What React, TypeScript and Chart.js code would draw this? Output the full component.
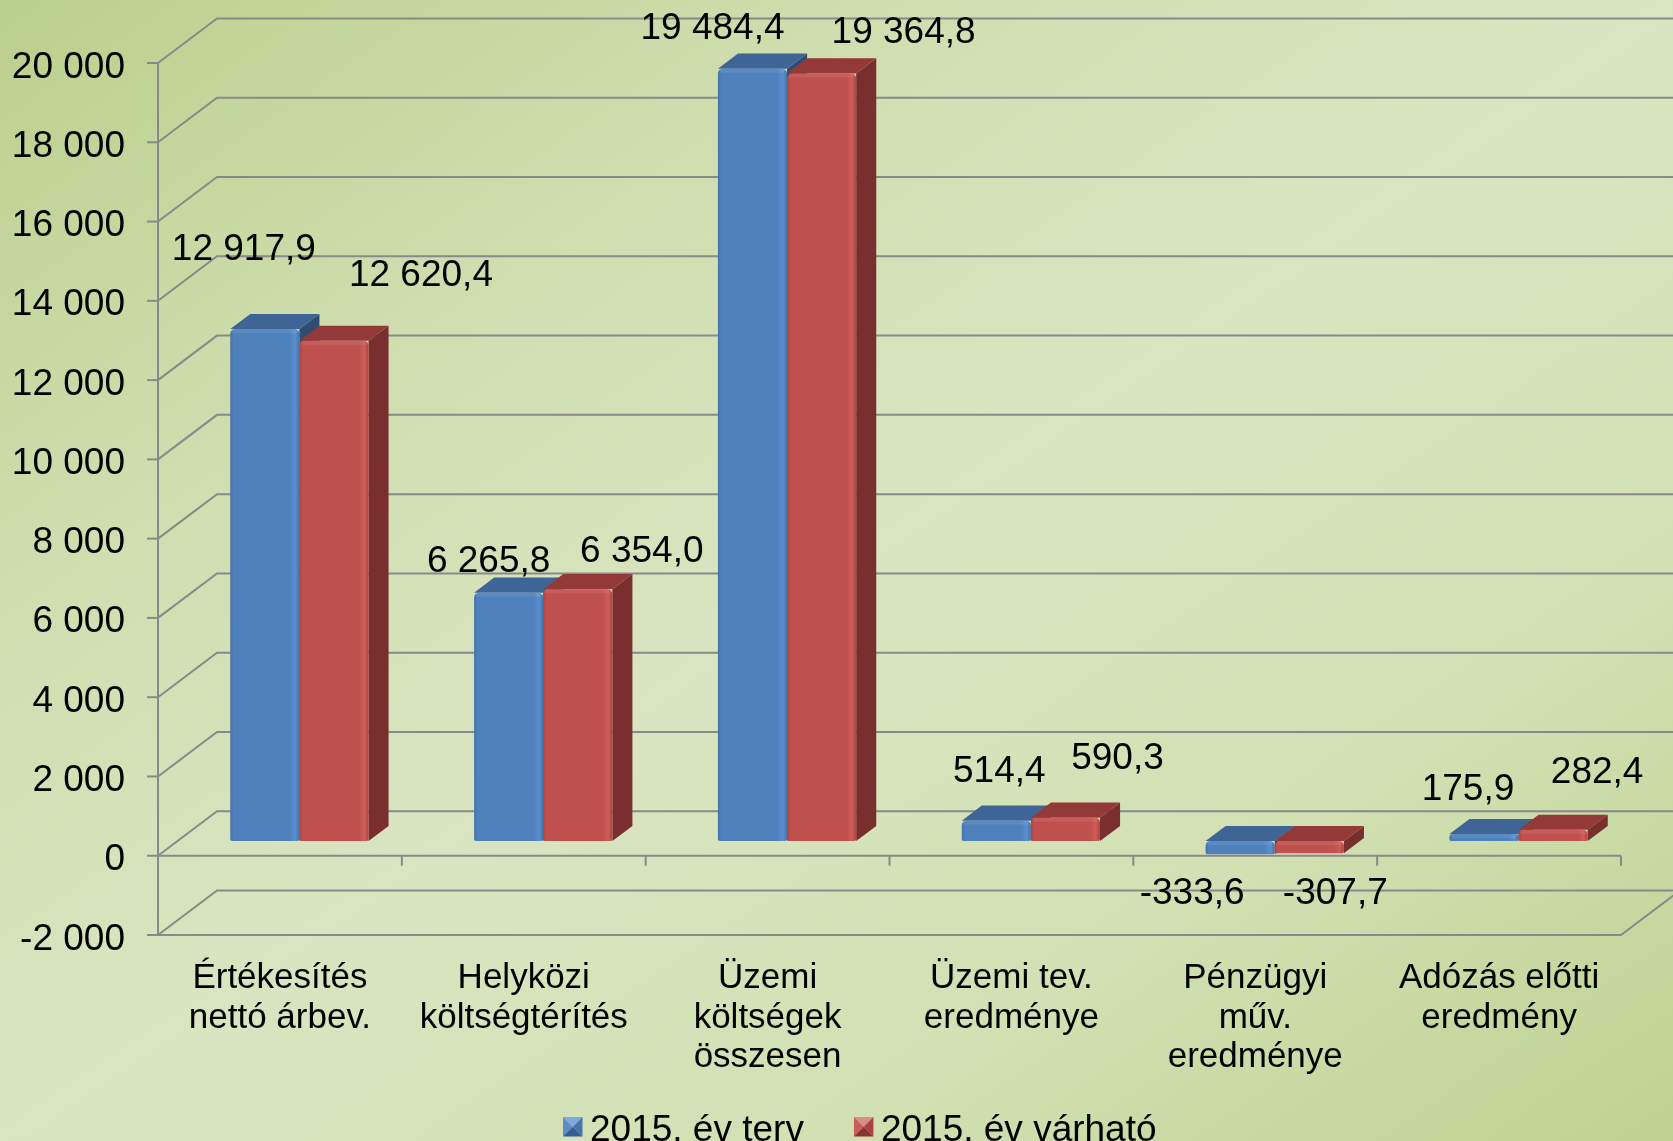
import { useEffect, useRef } from 'react';
import { Chart, registerables } from 'chart.js';

Chart.register(...registerables);

// ---------- data ----------
const categories: string[][] = [
  ['Értékesítés', 'nettó árbev.'],
  ['Helyközi', 'költségtérítés'],
  ['Üzemi', 'költségek', 'összesen'],
  ['Üzemi tev.', 'eredménye'],
  ['Pénzügyi', 'műv.', 'eredménye'],
  ['Adózás előtti', 'eredmény'],
];
const seriesNames = ['2015. év terv', '2015. év várható'];
const planValues = [12917.9, 6265.8, 19484.4, 514.4, -333.6, 175.9];
const expectedValues = [12620.4, 6354.0, 19364.8, 590.3, -307.7, 282.4];
const yTicks = [-2000, 0, 2000, 4000, 6000, 8000, 10000, 12000, 14000, 16000, 18000, 20000];

// data-label nudges (px) relative to the bar top, as placed in the original
const planLabelDx = [-21, -20, -40, 3, -48, -16];
const planLabelDy = [-69, -21, -30, -39, 50, -34];
const expectedLabelDx = [87, 64, 82, 52, 26, 44];
const expectedLabelDy = [-55, -27, -30, -49, 51, -47];

// ---------- style ----------
const W = 1673;
const H = 1141;
const DEPTH_X = 59;
const DEPTH_Y = 44.5;
const BAR_FRONT = 0.33;
const BAR_DEPTH = 0.34;
const FONT = "'Liberation Sans', Arial, sans-serif";
const GRID = '#898989';

const palette = [
  { front: '#4F81BD', light: '#5A90D0', dark: '#4572A8', top: '#3E6595', side: '#2F4D73', mTop: '#7FA9DE', mLeft: '#5C8DCA', mRight: '#4574AE', mBottom: '#355D92' },
  { front: '#C0504D', light: '#D05C58', dark: '#AA4543', top: '#933A38', side: '#7A2E2D', mTop: '#DE8A86', mLeft: '#C65E5A', mRight: '#A84542', mBottom: '#8A3432' },
];

function fmt(v: number, dec: number): string {
  const neg = v < 0;
  const s = Math.abs(v).toFixed(dec);
  const parts = s.split('.');
  const g = parts[0].replace(/\B(?=(\d{3})+(?!\d))/g, ' ');
  return (neg ? '-' : '') + g + (parts[1] ? ',' + parts[1] : '');
}

function poly(ctx: CanvasRenderingContext2D, pts: number[][], fill: string) {
  ctx.beginPath();
  ctx.moveTo(pts[0][0], pts[0][1]);
  for (let i = 1; i < pts.length; i++) ctx.lineTo(pts[i][0], pts[i][1]);
  ctx.closePath();
  ctx.fillStyle = fill;
  ctx.fill();
}

const threeDPlugin = {
  id: 'threeD',
  afterDraw(chart: any) {
    const ctx: CanvasRenderingContext2D = chart.ctx;
    const area = chart.chartArea;
    const xs = chart.scales.x;
    const ys = chart.scales.y;
    ctx.save();

    // walls: gridlines
    ctx.strokeStyle = GRID;
    ctx.lineWidth = 2;
    for (const t of yTicks) {
      const y = ys.getPixelForValue(t);
      ctx.beginPath();
      ctx.moveTo(area.left, y);
      ctx.lineTo(area.left + DEPTH_X, y - DEPTH_Y);
      ctx.lineTo(chart.width + 2, y - DEPTH_Y);
      ctx.stroke();
      ctx.beginPath();
      ctx.moveTo(area.left - 11, y);
      ctx.lineTo(area.left, y);
      ctx.stroke();
    }
    // y axis line
    ctx.beginPath();
    ctx.moveTo(area.left, ys.getPixelForValue(yTicks[yTicks.length - 1]));
    ctx.lineTo(area.left, ys.getPixelForValue(yTicks[0]));
    ctx.stroke();
    // floor front + right edge
    const yMin = ys.getPixelForValue(yTicks[0]);
    ctx.beginPath();
    ctx.moveTo(area.left, yMin);
    ctx.lineTo(area.right, yMin);
    ctx.lineTo(area.right + DEPTH_X, yMin - DEPTH_Y);
    ctx.stroke();
    // category axis at 0
    const y0 = ys.getPixelForValue(0);
    ctx.beginPath();
    ctx.moveTo(area.left, y0);
    ctx.lineTo(area.right, y0);
    ctx.stroke();
    const catW = categories.length > 1 ? xs.getPixelForValue(1) - xs.getPixelForValue(0) : area.right - area.left;
    for (let i = 0; i < categories.length; i++) {
      const xb = xs.getPixelForValue(i) + catW / 2;
      ctx.beginPath();
      ctx.moveTo(xb, y0);
      ctx.lineTo(xb, y0 + 10);
      ctx.stroke();
    }

    // y tick labels
    ctx.fillStyle = '#000';
    ctx.font = `37px ${FONT}`;
    ctx.textAlign = 'right';
    ctx.textBaseline = 'alphabetic';
    for (const t of yTicks) {
      const y = ys.getPixelForValue(t);
      ctx.fillText(fmt(t, 0), area.left - 33, y + 14.5);
    }

    // category labels
    ctx.font = `35px ${FONT}`;
    ctx.textAlign = 'center';
    for (let i = 0; i < categories.length; i++) {
      const cx = xs.getPixelForValue(i);
      categories[i].forEach((line, k) => {
        ctx.fillText(line, cx, yMin + 53 + k * 39.5);
      });
    }

    // bars (3D boxes)
    const ox = DEPTH_X * BAR_FRONT;
    const oy = DEPTH_Y * BAR_FRONT;
    const dx = DEPTH_X * BAR_DEPTH;
    const dy = DEPTH_Y * BAR_DEPTH;
    const nds = chart.data.datasets.length;
    for (let i = 0; i < categories.length; i++) {
      for (let d = 0; d < nds; d++) {
        const el = chart.getDatasetMeta(d).data[i];
        const c = palette[d];
        const x0 = el.x - el.width / 2 + ox;
        const x1 = el.x + el.width / 2 + ox;
        const yt = Math.min(el.y, el.base) - oy;
        const yb = Math.max(el.y, el.base) - oy;
        poly(ctx, [[x1, yt], [x1 + dx, yt - dy], [x1 + dx, yb - dy], [x1, yb]], c.side);
        poly(ctx, [[x0, yt], [x1, yt], [x1 + dx, yt - dy], [x0 + dx, yt - dy]], c.top);
        const g = ctx.createLinearGradient(x0, 0, x1, 0);
        g.addColorStop(0, c.dark);
        g.addColorStop(0.05, c.front);
        g.addColorStop(0.86, c.front);
        g.addColorStop(0.94, c.light);
        g.addColorStop(1, c.dark);
        ctx.fillStyle = g;
        ctx.beginPath();
        const r = Math.min(5, (yb - yt) / 2);
        (ctx as any).roundRect(x0, yt, x1 - x0, yb - yt, [r, r, 2, 2]);
        ctx.fill();
        // soft top edge highlight
        ctx.fillStyle = 'rgba(255,255,255,0.08)';
        ctx.fillRect(x0 + 2, yt, x1 - x0 - 4, Math.min(4, yb - yt));
      }
    }

    // data labels
    ctx.font = `37px ${FONT}`;
    ctx.fillStyle = '#000';
    ctx.textAlign = 'center';
    const nudges = [
      [planLabelDx, planLabelDy],
      [expectedLabelDx, expectedLabelDy],
    ];
    for (let d = 0; d < nds; d++) {
      const meta = chart.getDatasetMeta(d);
      const vals = chart.data.datasets[d].data as number[];
      for (let i = 0; i < vals.length; i++) {
        const el = meta.data[i];
        const ax = el.x + ox + nudges[d][0][i];
        const ay = el.y - oy + nudges[d][1][i];
        ctx.fillText(fmt(vals[i], 1), ax, ay);
      }
    }

    // legend
    ctx.font = `37px ${FONT}`;
    ctx.textAlign = 'left';
    let lx = 563;
    const ly = 1117;
    const ms = 19.5;
    for (let d = 0; d < nds; d++) {
      const c = palette[d];
      const cxm = lx + ms / 2;
      const cym = ly + ms / 2;
      poly(ctx, [[lx, ly], [lx + ms, ly], [cxm, cym]], c.mTop);
      poly(ctx, [[lx, ly], [cxm, cym], [lx, ly + ms]], c.mLeft);
      poly(ctx, [[lx + ms, ly], [lx + ms, ly + ms], [cxm, cym]], c.mRight);
      poly(ctx, [[lx, ly + ms], [cxm, cym], [lx + ms, ly + ms]], c.mBottom);
      const label = chart.data.datasets[d].label as string;
      ctx.fillStyle = '#000';
      ctx.fillText(label, lx + 27, 1140.5);
      lx = lx + 27 + ctx.measureText(label).width + 50;
    }

    ctx.restore();
  },
};

export default function App() {
  const ref = useRef<HTMLCanvasElement | null>(null);
  useEffect(() => {
    if (!ref.current) return;
    const chart = new Chart(ref.current, {
      type: 'bar',
      data: {
        labels: categories.map((c) => c.join(' ')),
        datasets: [
          { label: seriesNames[0], data: planValues, backgroundColor: 'rgba(0,0,0,0)', borderWidth: 0, categoryPercentage: 0.567, barPercentage: 1 },
          { label: seriesNames[1], data: expectedValues, backgroundColor: 'rgba(0,0,0,0)', borderWidth: 0, categoryPercentage: 0.567, barPercentage: 1 },
        ],
      },
      options: {
        responsive: false,
        devicePixelRatio: 1,
        animation: false,
        layout: { padding: { left: 158, right: 52, top: 63, bottom: 206 } },
        plugins: { legend: { display: false }, tooltip: { enabled: false } },
        scales: {
          x: { display: false, offset: true },
          y: { display: false, min: -2000, max: 20000 },
        },
      },
      plugins: [threeDPlugin],
    } as any);
    return () => chart.destroy();
  }, []);

  return (
    <div
      style={{
        position: 'absolute',
        left: 0,
        top: 0,
        width: W,
        height: H,
        overflow: 'hidden',
        background: 'linear-gradient(to bottom right, #BAD08C 0%, #CFDDAE 25%, #D9E5C1 50%, #D2E0B3 75%, #BDD291 100%)',
      }}
    >
      <canvas ref={ref} width={W} height={H} style={{ display: 'block' }} />
    </div>
  );
}
